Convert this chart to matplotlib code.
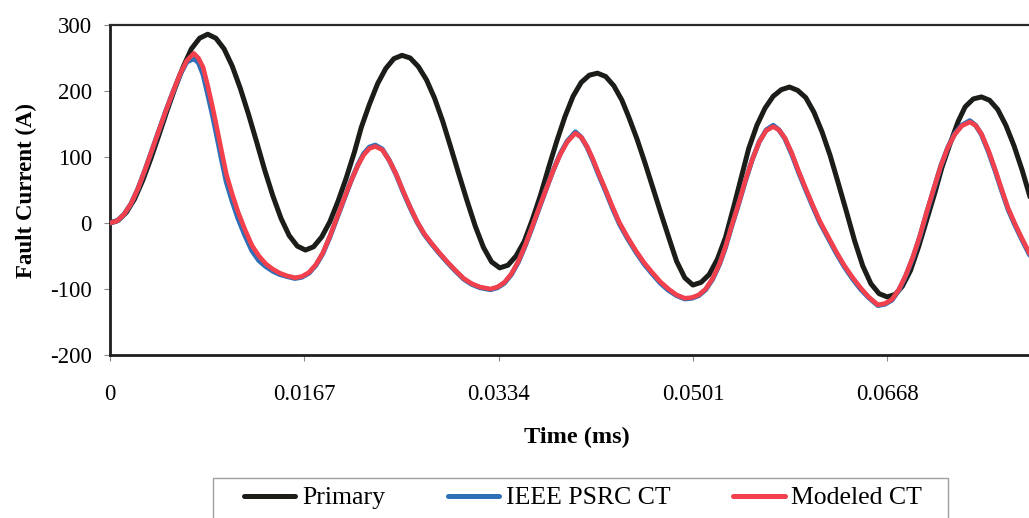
import matplotlib
matplotlib.use("Agg")
import matplotlib.pyplot as plt
from matplotlib.patches import Rectangle

# ---------------- data ----------------
t_primary = [0, 0.0007, 0.0014, 0.0021, 0.0028, 0.0035, 0.0042, 0.0049, 0.0056, 0.0063, 0.0070, 0.0077, 0.0084,
             0.0091, 0.0098, 0.0105, 0.0112, 0.0119, 0.0126, 0.0133, 0.0140, 0.0147, 0.0154, 0.0161, 0.0168,
             0.0175, 0.0182, 0.0189, 0.0196, 0.0203, 0.0210, 0.0216, 0.0223, 0.0230, 0.0237, 0.0244, 0.0251,
             0.0258, 0.0265, 0.0272, 0.0279, 0.0286, 0.0293, 0.0300, 0.0307, 0.0314, 0.0321, 0.0328, 0.0335,
             0.0342, 0.0349, 0.0356, 0.0363, 0.0370, 0.0377, 0.0384, 0.0391, 0.0398, 0.0405, 0.0412, 0.0419,
             0.0426, 0.0433, 0.0440, 0.0446, 0.0453, 0.0460, 0.0467, 0.0474, 0.0481, 0.0487, 0.0494, 0.0501,
             0.0508, 0.0515, 0.0522, 0.0529, 0.0536, 0.0543, 0.0549, 0.0556, 0.0563, 0.0570, 0.0577, 0.0584,
             0.0591, 0.0598, 0.0605, 0.0612, 0.0619, 0.0626, 0.0633, 0.0640, 0.0647, 0.0654, 0.0661, 0.0668,
             0.0675, 0.0681, 0.0688, 0.0695, 0.0702, 0.0709, 0.0715, 0.0722, 0.0729, 0.0735, 0.0742, 0.0749,
             0.0756, 0.0763, 0.0770, 0.0777, 0.0784, 0.0791, 0.0798]
i_primary = [0, 4, 16, 36, 64, 97, 133, 170, 205, 237, 264, 280, 286,
             280, 264, 238, 204, 165, 123, 80, 41, 7, -19, -35, -41,
             -36, -21, 2, 33, 68, 107, 145, 180, 211, 234, 249, 254,
             250, 237, 217, 189, 154, 114, 73, 33, -5, -37, -59, -68,
             -64, -50, -28, 5, 42, 84, 124, 161, 192, 213, 224, 227,
             222, 208, 186, 160, 127, 90, 51, 12, -26, -58, -83, -94,
             -90, -78, -55, -22, 24, 72, 113, 148, 174, 192, 202, 206,
             201, 190, 168, 138, 102, 60, 17, -27, -65, -92, -107, -112,
             -108, -96, -72, -36, 5, 46, 84, 120, 154, 176, 188, 191,
             186, 172, 148, 117, 80, 38, -5]

t_ct = [0, 0.0006, 0.0012, 0.0018, 0.0024, 0.0030, 0.0036, 0.0042, 0.0048, 0.0054, 0.0060, 0.0066, 0.0072,
        0.0076, 0.0080, 0.0084, 0.0088, 0.0092, 0.0096, 0.0100, 0.0105, 0.0110, 0.0116, 0.0122, 0.0128,
        0.0134, 0.0140, 0.0146, 0.0152, 0.0159,
        0.0165, 0.0171, 0.0177, 0.0183, 0.0189, 0.0195, 0.0201, 0.0207, 0.0213, 0.0218, 0.0223, 0.0228,
        0.0234, 0.0240, 0.0246, 0.0252, 0.0258, 0.0264, 0.0270, 0.0276, 0.0283, 0.0290, 0.0297, 0.0304,
        0.0311, 0.0318, 0.0327,
        0.0333, 0.0339, 0.0345, 0.0351, 0.0357, 0.0363, 0.0369, 0.0375, 0.0381, 0.0387, 0.0393, 0.0400,
        0.0405, 0.0410, 0.0415, 0.0420, 0.0426, 0.0432, 0.0438, 0.0445, 0.0452, 0.0459, 0.0466, 0.0473,
        0.0480, 0.0487, 0.0494,
        0.0500, 0.0506, 0.0512, 0.0518, 0.0524, 0.0529, 0.0534, 0.0540, 0.0546, 0.0552, 0.0558, 0.0564, 0.0570,
        0.0575, 0.0580, 0.0586, 0.0592, 0.0598, 0.0604, 0.0610, 0.0617, 0.0624, 0.0631, 0.0638, 0.0645,
        0.0652, 0.0660,
        0.0666, 0.0672, 0.0678, 0.0684, 0.0690, 0.0696, 0.0702, 0.0708, 0.0714, 0.0720, 0.0726, 0.0732, 0.0739,
        0.0744, 0.0749, 0.0755, 0.0761, 0.0766, 0.0772, 0.0778, 0.0784, 0.0790, 0.0796]
i_modeled = [0, 3, 13, 29, 52, 80, 110, 140, 170, 198, 225, 246, 257,
             250, 236, 208, 177, 143, 108, 74, 44, 17, -10, -34, -50,
             -62, -70, -76, -80, -83,
             -81, -75, -63, -45, -20, 8, 36, 63, 87, 103, 113, 116,
             111, 95, 74, 48, 24, 2, -16, -30, -45, -59, -72, -84,
             -92, -97, -100,
             -97, -90, -77, -58, -33, -5, 24, 52, 80, 104, 123, 136,
             130, 116, 97, 75, 50, 24, 0, -22, -42, -60, -75, -89,
             -100, -109, -114,
             -113, -109, -100, -84, -61, -36, -6, 28, 64, 96, 123, 140, 146,
             141, 129, 106, 78, 52, 27, 3, -20, -43, -64, -82, -98,
             -112, -124,
             -122, -116, -101, -79, -52, -20, 17, 52, 86, 114, 134, 147, 153,
             148, 135, 110, 80, 53, 22, -2, -24, -45, -62]
i_ieee = [0, 3, 13, 29, 52, 80, 110, 140, 170, 198, 224, 244, 249,
          243, 225, 195, 164, 130, 95, 62, 33, 7, -19, -42, -57,
          -66, -73, -78, -81, -84,
          -82, -76, -64, -46, -21, 7, 35, 63, 88, 105, 115, 118,
          112, 95, 73, 47, 23, 1, -17, -31, -46, -60, -73, -85,
          -93, -98, -101,
          -98, -91, -78, -59, -34, -6, 23, 52, 80, 105, 124, 138,
          130, 115, 95, 73, 48, 22, -2, -24, -44, -62, -77, -91,
          -102, -110, -115,
          -114, -110, -101, -85, -62, -37, -7, 27, 63, 96, 123, 141, 148,
          141, 128, 104, 76, 50, 25, 1, -22, -45, -66, -84, -100,
          -113, -125,
          -123, -117, -102, -80, -53, -21, 16, 51, 86, 114, 135, 148, 155,
          148, 134, 108, 78, 51, 20, -4, -26, -47, -64]

x_ticks = [0, 0.0167, 0.0334, 0.0501, 0.0668]
x_tick_labels = ["0", "0.0167", "0.0334", "0.0501", "0.0668"]
y_ticks = [-200, -100, 0, 100, 200, 300]
series_names = ["Primary", "IEEE PSRC CT", "Modeled CT"]

# ---------------- figure ----------------
plt.rcParams["font.family"] = ["Liberation Serif", "DejaVu Serif"]
plt.rcParams["axes.unicode_minus"] = False

W, H = 1029, 518
fig = plt.figure(figsize=(W / 100, H / 100), dpi=100)
fig.patch.set_facecolor("white")

ax_left, ax_right_px = 110, 1045
ax_top, ax_bottom = 25, 355
ax = fig.add_axes([ax_left / W, 1 - ax_bottom / H,
                   (ax_right_px - ax_left) / W, (ax_bottom - ax_top) / H])

px_per_unit = 194.3 / 0.0167
ax.set_xlim(0, (ax_right_px - ax_left) / px_per_unit)
ax.set_ylim(-200, 300)

c_black = "#1b1d19"
c_blue = "#2f6fb8"
c_red = "#f2404c"

ax.plot(t_primary, i_primary, color=c_black, lw=3.6, solid_capstyle="round",
        solid_joinstyle="round", label=series_names[0], zorder=3)
ax.plot(t_ct, i_ieee, color=c_blue, lw=3.6, solid_capstyle="round",
        solid_joinstyle="round", label=series_names[1], zorder=4)
ax.plot(t_ct, i_modeled, color=c_red, lw=3.3, solid_capstyle="round",
        solid_joinstyle="round", label=series_names[2], zorder=5)

ax.set_xticks(x_ticks)
ax.set_xticklabels(x_tick_labels)
ax.set_yticks(y_ticks)
ax.tick_params(axis="x", direction="out", length=4, width=0.8, color="#888888",
               labelsize=16.5, pad=17)
ax.tick_params(axis="y", direction="out", length=4, width=0.8, color="#888888",
               labelsize=16.5, pad=9)

for s in ["left", "bottom"]:
    ax.spines[s].set_linewidth(2.0)
    ax.spines[s].set_color("#1e1e1e")
ax.spines["top"].set_linewidth(1.6)
ax.spines["top"].set_color("#2a2a2a")
ax.spines["right"].set_visible(False)

ax.set_ylabel("Fault Current (A)", fontsize=16.5, fontweight="bold")
ax.yaxis.set_label_coords(-0.0785, 0.5)
ax.set_xlabel("Time (ms)", fontsize=17.5, fontweight="bold")
ax.xaxis.set_label_coords((577 - ax_left) / (ax_right_px - ax_left), -0.217)

# legend box (frame drawn separately so it can run off the bottom edge like the reference)
fig.patches.append(Rectangle((213 / W, -0.05), (948 - 213) / W, 0.05 + (518 - 478) / H,
                             transform=fig.transFigure, facecolor="white",
                             edgecolor="#a0a0a0", linewidth=1.0, zorder=1))
leg = fig.legend(loc="center left", bbox_to_anchor=(244 / W, 1 - 498 / H),
                 ncol=3, fontsize=18.5, frameon=False,
                 handlelength=2.0, handletextpad=0.25, columnspacing=2.45,
                 borderpad=0, borderaxespad=0)
leg.set_zorder(2)
for line in leg.get_lines():
    line.set_linewidth(3.6)

fig.savefig("out.png", dpi=100, facecolor="white")
